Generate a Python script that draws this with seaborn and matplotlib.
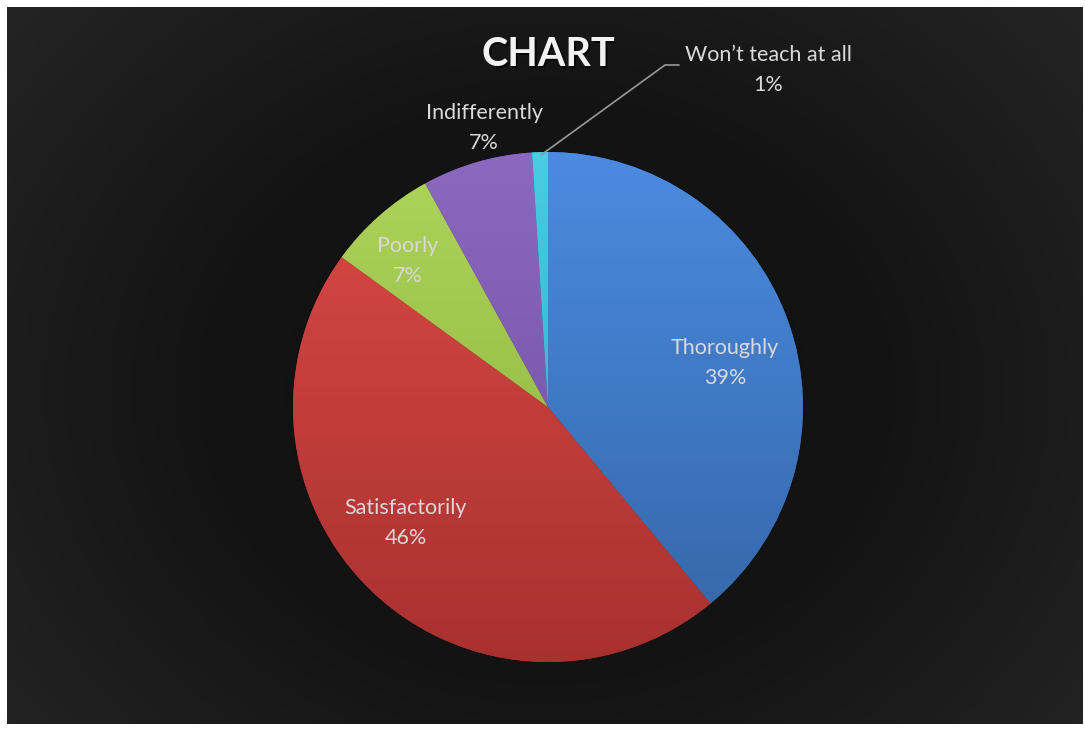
import numpy as np
import pandas as pd
import seaborn as sns
import matplotlib.pyplot as plt
from matplotlib.colors import LinearSegmentedColormap

# data
categories = ["Thoroughly", "Satisfactorily", "Poorly", "Indifferently", "Won\u2019t teach at all"]
shares = [39, 46, 7, 7, 1]
top_colors = ["#4b8be0", "#dc4a45", "#aed45a", "#8c68c0", "#48cde4"]
bottom_colors = ["#3465a6", "#a83130", "#8aae3c", "#6c4c9c", "#2ea4bc"]

df = pd.DataFrame({"category": categories, "share": shares})

sns.set_theme(style="dark")
plt.rcParams["font.family"] = ["Lato", "DejaVu Sans"]

W, H = 1085, 731
fig = plt.figure(figsize=(W / 100, H / 100), dpi=100, facecolor="white")

# dark background panel with soft radial gradient
bg = fig.add_axes([7 / W, 7 / H, (W - 9) / W, (H - 14) / H])
yy, xx = np.mgrid[0:300, 0:440]
rr = np.sqrt(((xx - 220) / 220) ** 2 + ((yy - 160) / 190) ** 2)
bg.imshow(np.clip(rr, 0, 1.3), cmap=LinearSegmentedColormap.from_list("bg", ["#101010", "#141414", "#242424"]),
          aspect="auto", extent=[0, 1, 0, 1], vmin=0, vmax=1.3)
bg.set_axis_off()

ax = fig.add_axes([0, 0, 1, 1])
ax.set_xlim(0, W)
ax.set_ylim(0, H)
ax.set_aspect("equal")
ax.set_axis_off()
ax.patch.set_alpha(0)

cx, cy, r = 548, H - 407, 255
wedges, _ = ax.pie(df["share"], center=(cx, cy), radius=r, startangle=90, counterclock=False,
                   colors=top_colors, wedgeprops=dict(linewidth=1.2, edgecolor="#00000040"))

grad = np.linspace(1, 0, 256).reshape(-1, 1)
for w, c1, c2 in zip(wedges, top_colors, bottom_colors):
    cmap = LinearSegmentedColormap.from_list("g", [c2, c1])
    im = ax.imshow(grad, cmap=cmap, extent=[cx - r, cx + r, cy - r, cy + r], aspect="auto", zorder=1.5)
    im.set_clip_path(w)
ax.set_xlim(0, W)
ax.set_ylim(0, H)

# labels (pixel positions of label centres)
label_pos = [(725, 363), (406, 523), (408, 261), (484, 128), (768, 70)]
txt = "#d9d9d9"
for (lx, ly), name, val in zip(label_pos, categories, shares):
    ax.text(lx, H - ly, f"{name}\n{val}%", ha="center", va="center", color=txt,
            fontsize=15.5, linespacing=1.65, zorder=5)

# leader line for the small slice
ax.plot([541, 665, 679], [H - 155, H - 65, H - 65], color="#9a9a9a", lw=1.2, zorder=4)

# title with a soft shadow
ax.text(550, H - 57, "CHART", ha="center", va="center", color="#000000", alpha=0.6,
        fontsize=28.5, fontweight="bold", zorder=5)
ax.text(548, H - 55, "CHART", ha="center", va="center", color="#f2f2f2",
        fontsize=28.5, fontweight="bold", zorder=6)

fig.savefig("out.png", dpi=100, facecolor="white")
